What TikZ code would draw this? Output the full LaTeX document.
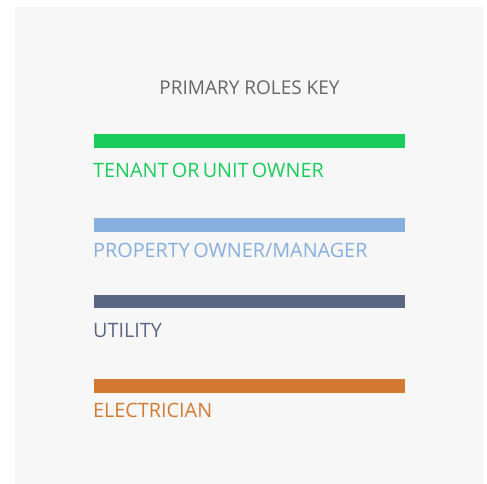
\documentclass[tikz,border=0pt]{standalone}
\usepackage{fontspec}
\setmainfont{Open Sans}
\newfontfamily\lblfont{Open Sans}[WordSpace=0.65]
\definecolor{bgc}{HTML}{F7F7F7}
\definecolor{cgreen}{HTML}{1ACC5A}
\definecolor{cblue}{HTML}{87AFDE}
\definecolor{cutil}{HTML}{5B6683}
\definecolor{corange}{HTML}{D27A32}
\definecolor{ctitle}{HTML}{666666}
\begin{document}
\begin{tikzpicture}[x=1pt,y=-1pt,
  bar/.style={inner sep=0pt, minimum width=311pt, minimum height=14pt, anchor=north west},
  lbl/.style={inner sep=0pt, anchor=base west, font=\lblfont\fontsize{19.8}{24}\selectfont},
]
\useasboundingbox (0,0) rectangle (487,484);
\fill[white] (0,0) rectangle (487,484);
\fill[bgc] (15,7) rectangle (483,484);
\node[inner sep=0pt, anchor=base, text=ctitle, font=\fontsize{19}{24}\selectfont] (title) at (249.5,95) {PRIMARY ROLES KEY};
\node[bar, fill=cgreen] (b1) at (94,134) {};
\node[lbl, text=cgreen] (t1) at (93,177) {TENANT OR UNIT OWNER};
\node[bar, fill=cblue] (b2) at (94,218) {};
\node[lbl, text=cblue] (t2) at (93,257) {PROPERTY OWNER/MANAGER};
\node[bar, fill=cutil, minimum height=13pt] (b3) at (94,295) {};
\node[lbl, text=cutil] (t3) at (93,337) {UTILITY};
\node[bar, fill=corange] (b4) at (94,379) {};
\node[lbl, text=corange] (t4) at (93,417) {ELECTRICIAN};
\end{tikzpicture}
\end{document}
